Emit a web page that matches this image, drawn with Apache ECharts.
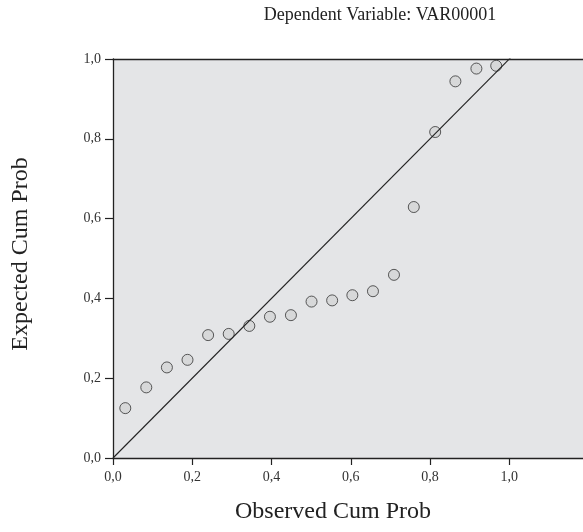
<!DOCTYPE html>
<html><head><meta charset="utf-8">
<script src="https://cdn.jsdelivr.net/npm/echarts@6/dist/echarts.min.js"></script>
<style>html,body{margin:0;padding:0;background:#fff}#c{width:583px;height:532px}</style>
</head><body><div id="c"></div>
<script>
const observed = [0.031,0.084,0.136,0.188,0.240,0.292,0.344,0.396,0.449,0.501,0.553,0.604,0.656,0.709,0.759,0.813,0.864,0.917,0.967];
const expected = [0.125,0.177,0.227,0.246,0.308,0.311,0.331,0.354,0.358,0.392,0.395,0.408,0.418,0.459,0.629,0.817,0.944,0.976,0.983];
const refLine = [[0,0],[1.3,1.3]];
const tickValues = [0,0.2,0.4,0.6,0.8,1.0];
const titleText = 'Dependent Variable: VAR00001';
const xName = 'Observed Cum Prob';
const yName = 'Expected Cum Prob';

const serif = '"Liberation Serif","DejaVu Serif",serif';
const fmt = v => v.toFixed(1).replace('.', ',');
const chart = echarts.init(document.getElementById('c'));
chart.setOption({
  animation: false,
  graphic: [
    {type:'text', x: 380, y: 15, style:{text: titleText, font: '18px ' + serif, fill:'#222', align:'center', verticalAlign:'middle'}},
    {type:'text', x: 333, y: 512, style:{text: xName, font: '24px ' + serif, fill:'#222', align:'center', verticalAlign:'middle'}},
    {type:'text', x: 21, y: 254, rotation: Math.PI/2, style:{text: yName, font: '24px ' + serif, fill:'#222', align:'center', verticalAlign:'middle'}}
  ],
  grid: {left:113, top:59, right:-2, bottom:74, show:true, backgroundColor:'#e4e5e7', borderWidth:0},
  xAxis: [{
    type:'value', min:0, max:1.186, position:'bottom',
    axisLine:{show:true, onZero:false, lineStyle:{color:'#222', width:1.3}},
    axisTick:{show:true, length:7, lineStyle:{color:'#222', width:1.2}, customValues: tickValues},
    axisLabel:{fontFamily:serif, fontSize:14, color:'#333', margin:12, formatter:fmt, customValues: tickValues},
    splitLine:{show:false}
  },{
    type:'value', min:0, max:1.186, position:'top',
    axisLine:{show:true, onZero:false, lineStyle:{color:'#222', width:1.3}},
    axisTick:{show:false}, axisLabel:{show:false}, splitLine:{show:false}
  }],
  yAxis: {
    type:'value', min:0, max:1, interval:0.2,
    axisLine:{show:true, onZero:false, lineStyle:{color:'#222', width:1.3}},
    axisTick:{show:true, length:8, lineStyle:{color:'#222', width:1.2}},
    axisLabel:{fontFamily:serif, fontSize:14, color:'#333', margin:12, formatter:fmt},
    splitLine:{show:false}
  },
  series: [{
    type:'line', data: refLine, symbol:'none', clip:true, silent:true,
    lineStyle:{color:'#222', width:1.1}
  },{
    type:'scatter', data: observed.map((x,i)=>[x, expected[i]]),
    symbol:'circle', symbolSize:11,
    itemStyle:{color:'#d3d4d6', borderColor:'#333', borderWidth:1}
  }]
});
</script></body></html>
